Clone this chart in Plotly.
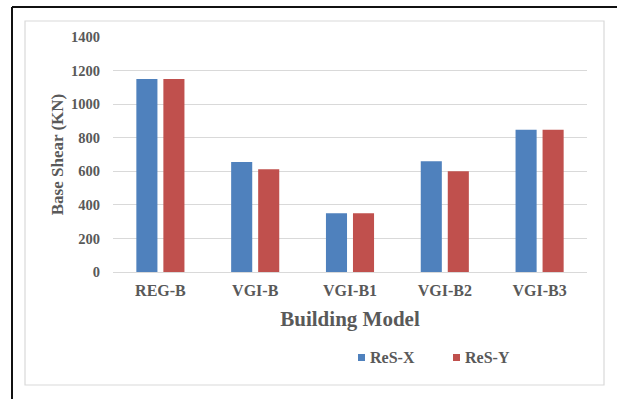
import plotly.graph_objects as go

# Base shear per building model, in both response directions
models = ["REG-B", "VGI-B", "VGI-B1", "VGI-B2", "VGI-B3"]
res_x = [1150, 655, 350, 660, 848]
res_y = [1150, 612, 350, 600, 848]
series_names = ["ReS-X", "ReS-Y"]
series_colors = ["#4F81BD", "#C0504D"]
y_ticks = [0, 200, 400, 600, 800, 1000, 1200, 1400]

W, H = 617, 399
L, R, T, B = 113, 30, 37, 127
PW, PH = W - L - R, H - T - B

def px_to_paper_x(px):
    return (px - L) / PW

def px_to_paper_y(py):
    return 1 - (py - T) / PH

FONT = "Liberation Serif, Times New Roman, serif"
GREY = "#595959"

fig = go.Figure()
for name, vals, col in zip(series_names, [res_x, res_y], series_colors):
    fig.add_trace(go.Bar(x=models, y=vals, name=name, marker_color=col,
                         marker_line_width=0, showlegend=False))

fig.update_layout(
    width=W, height=H,
    margin=dict(l=L, r=R, t=T, b=B),
    paper_bgcolor="white", plot_bgcolor="white",
    barmode="group", bargap=0.43, bargroupgap=0.22,
    font=dict(family=FONT, color=GREY),
    xaxis=dict(
        tickfont=dict(family=FONT, size=16, color=GREY, weight="bold"),
        showgrid=False, showline=False, ticks="", ticklabelstandoff=7,
        title=dict(text="<b>Building Model</b>", font=dict(family=FONT, size=21, color=GREY),
                   standoff=13),
    ),
    yaxis=dict(
        range=[0, 1400], tickvals=y_ticks,
        tickfont=dict(family=FONT, size=14.5, color=GREY, weight="bold"),
        showgrid=True, gridcolor="#D9D9D9", gridwidth=1,
        zeroline=True, zerolinecolor="#D9D9D9", zerolinewidth=1,
        showline=False, ticks="", ticklabelstandoff=12,
        title=dict(text="<b>Base Shear (KN)</b>", font=dict(family=FONT, size=17, color=GREY),
                   standoff=3),
    ),
)

# Chart frames: outer dark border and inner light border
fig.add_shape(type="line", xref="paper", yref="paper",
              x0=px_to_paper_x(12), x1=px_to_paper_x(630),
              y0=px_to_paper_y(7), y1=px_to_paper_y(7),
              line=dict(color="#111111", width=2))
fig.add_shape(type="line", xref="paper", yref="paper",
              x0=px_to_paper_x(12), x1=px_to_paper_x(12),
              y0=px_to_paper_y(7), y1=px_to_paper_y(410),
              line=dict(color="#111111", width=2))
fig.add_shape(type="rect", xref="paper", yref="paper",
              x0=px_to_paper_x(25), x1=px_to_paper_x(604),
              y0=px_to_paper_y(385), y1=px_to_paper_y(21),
              line=dict(color="#D9D9D9", width=1.2), fillcolor="rgba(0,0,0,0)")

# Legend entries: small coloured square followed by series name
legend_x = [358, 453]
for name, col, lx in zip(series_names, series_colors, legend_x):
    fig.add_shape(type="rect", xref="paper", yref="paper",
                  x0=px_to_paper_x(lx), x1=px_to_paper_x(lx + 7),
                  y0=px_to_paper_y(361), y1=px_to_paper_y(354),
                  line=dict(width=0), fillcolor=col)
    fig.add_annotation(xref="paper", yref="paper",
                       x=px_to_paper_x(lx + 10), y=px_to_paper_y(357),
                       xanchor="left", yanchor="middle", showarrow=False,
                       text=f"<b>{name}</b>",
                       font=dict(family=FONT, size=16, color=GREY))

fig.write_html("out.html")
